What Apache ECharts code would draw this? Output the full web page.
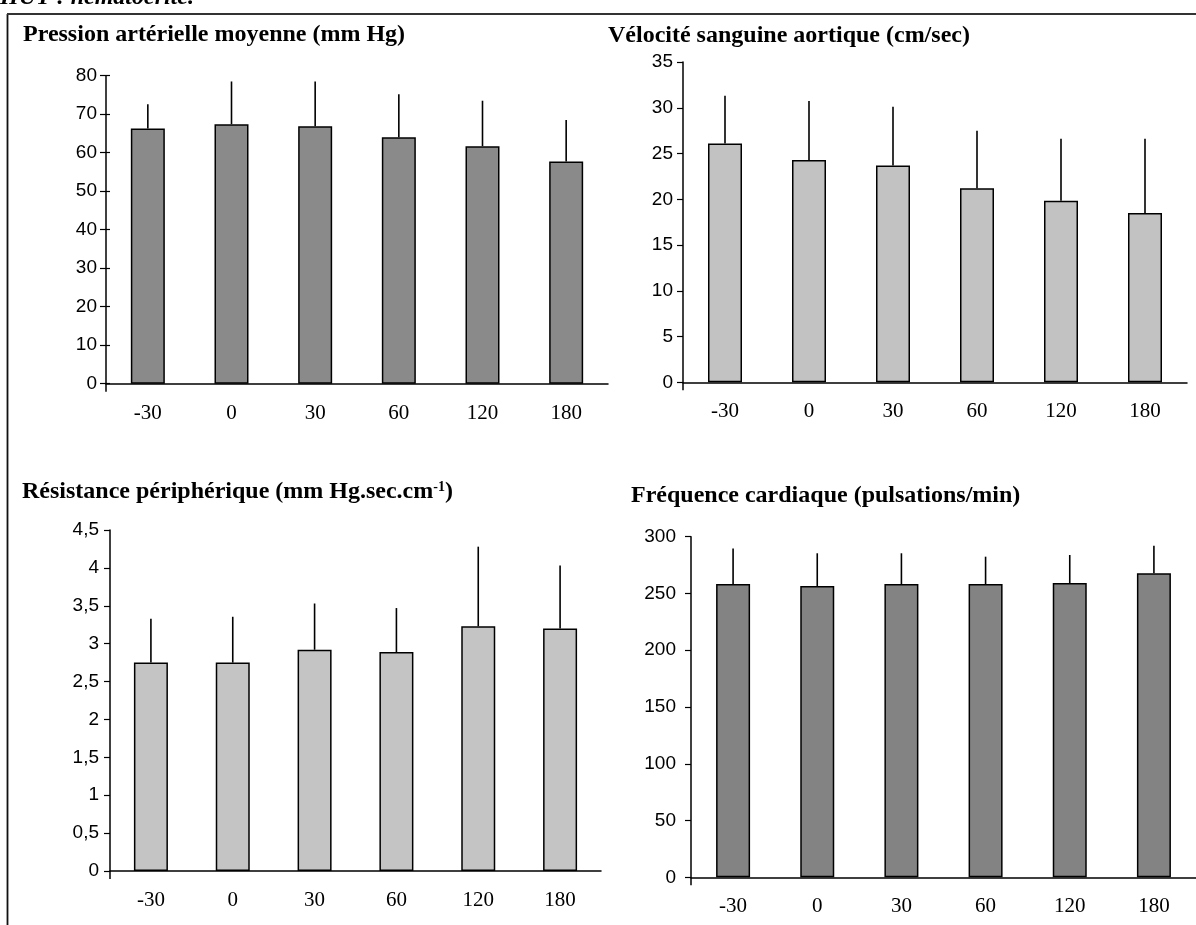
<!DOCTYPE html>
<html>
<head>
<meta charset="utf-8">
<script src="https://cdn.jsdelivr.net/npm/echarts@6/dist/echarts.min.js"></script>
<style>
html,body{margin:0;padding:0;background:#fff;}
#c{width:1196px;height:925px;}
</style>
</head>
<body>
<div id="c"></div>
<script>
// ---- data ----
var categories = ['-30', '0', '30', '60', '120', '180'];

var pamMean = [66.3, 67.4, 66.9, 64.0, 61.7, 57.7];
var pamTop  = [72.6, 78.5, 78.5, 75.2, 73.5, 68.5];

var velMean = [26.1, 24.3, 23.7, 21.2, 19.85, 18.5];
var velTop  = [31.3, 30.75, 30.1, 27.5, 26.6, 26.6];

var resMean = [2.75, 2.75, 2.92, 2.89, 3.23, 3.20];
var resTop  = [3.33, 3.355, 3.53, 3.47, 4.28, 4.03];

var fcMean = [258.3, 256.6, 258.3, 258.3, 259.2, 267.8];
var fcTop  = [289.5, 285.4, 285.4, 282.4, 283.9, 292.0];

var titles = [
  'Pression artérielle moyenne (mm Hg)',
  'Vélocité sanguine aortique (cm/sec)',
  'Résistance périphérique (mm Hg.sec.cm{sup|-1})',
  'Fréquence cardiaque (pulsations/min)'
];
var yMax = [80, 35, 4.5, 300];
var yStep = [10, 5, 0.5, 50];

// ---- layout ----
var grids = [
  {left: 106, top: 75.7, width: 502, height: 308},
  {left: 683, top: 62, width: 504, height: 320.3},
  {left: 110, top: 530, width: 491, height: 341},
  {left: 691, top: 536.7, width: 509, height: 340.6}
];
var barColors = ['#8a8a8a', '#c2c2c2', '#c4c4c4', '#838383'];
var labelMargins = [9, 10, 11, 15];
var titlePos = [[23, 22.5], [608, 24], [22, 480], [631, 484]];

var means = [pamMean, velMean, resMean, fcMean];
var tops = [pamTop, velTop, resTop, fcTop];

var xAxes = [], yAxes = [], series = [], graphics = [];

grids.forEach(function (g, k) {
  xAxes.push({
    type: 'category', gridIndex: k, data: categories,
    axisLine: {lineStyle: {color: '#000', width: 1.5}},
    axisTick: {show: false},
    axisLabel: {color: '#000', fontFamily: 'Liberation Serif', fontSize: 21, margin: 19}
  });
  yAxes.push({
    type: 'value', gridIndex: k, min: 0, max: yMax[k], interval: yStep[k],
    splitLine: {show: false},
    axisLine: {show: true, lineStyle: {color: '#000', width: 1.5}},
    axisTick: {show: true, length: 6, lineStyle: {color: '#000', width: 1.2}},
    axisLabel: {color: '#000', fontFamily: 'Liberation Sans', fontSize: 19, margin: labelMargins[k],
      formatter: function (v) { return String(v).replace('.', ','); }}
  });
  series.push({
    type: 'bar', xAxisIndex: k, yAxisIndex: k, data: means[k], barWidth: 34,
    itemStyle: {color: barColors[k], borderColor: '#000', borderWidth: 1.5},
    silent: true, z: 2
  });
  var ed = means[k].map(function (m, i) { return [i, m, tops[k][i]]; });
  series.push({
    type: 'custom', xAxisIndex: k, yAxisIndex: k, data: ed, z: 3, silent: true, clip: false,
    renderItem: function (params, api) {
      var p0 = api.coord([api.value(0), api.value(1)]);
      var p1 = api.coord([api.value(0), api.value(2)]);
      var children = [{type: 'line', shape: {x1: p0[0], y1: p0[1], x2: p1[0], y2: p1[1]},
              style: {stroke: '#000', lineWidth: 1.6}}];
      if (params.dataIndex === 0) {
        // origin tick: y axis continues a little below the category axis
        var o = api.coord([0, 0]);
        var bw = api.size([1, 0])[0];
        var ox = o[0] - bw / 2;
        children.push({type: 'line', shape: {x1: ox, y1: o[1], x2: ox, y2: o[1] + 8},
              style: {stroke: '#000', lineWidth: 1.5}});
      }
      return {type: 'group', children: children};
    }
  });
  graphics.push({
    type: 'text', left: titlePos[k][0], top: titlePos[k][1],
    style: {
      text: titles[k], fill: '#000',
      font: 'bold 24px "Liberation Serif"',
      rich: {sup: {fontSize: 14, fontWeight: 'bold', fontFamily: 'Liberation Serif', verticalAlign: 'top', padding: [0, 0, 10, 0]}}
    }
  });
});

// inside ticks overlay for first panel (cross-shaped ticks)
yAxes.push({
  type: 'value', gridIndex: 0, min: 0, max: yMax[0], interval: yStep[0], position: 'left',
  splitLine: {show: false}, axisLine: {show: false},
  axisTick: {show: true, inside: true, length: 4, lineStyle: {color: '#000', width: 1.2}},
  axisLabel: {show: false}
});

// frame and clipped heading
graphics.push({type: 'line', shape: {x1: 7.5, y1: 14, x2: 7.5, y2: 925}, style: {stroke: '#111', lineWidth: 1.8}});
graphics.push({type: 'line', shape: {x1: 7, y1: 14, x2: 1196, y2: 14}, style: {stroke: '#333', lineWidth: 1.8}});
graphics.push({type: 'text', left: 0, top: -14,
  style: {text: 'HUT : hématocrite.', fill: '#000', font: 'italic bold 24px "Liberation Serif"'}});

var chart = echarts.init(document.getElementById('c'), null, {renderer: 'canvas'});
chart.setOption({
  animation: false,
  backgroundColor: '#fff',
  grid: grids,
  xAxis: xAxes,
  yAxis: yAxes,
  series: series,
  graphic: graphics
});
</script>
</body>
</html>
